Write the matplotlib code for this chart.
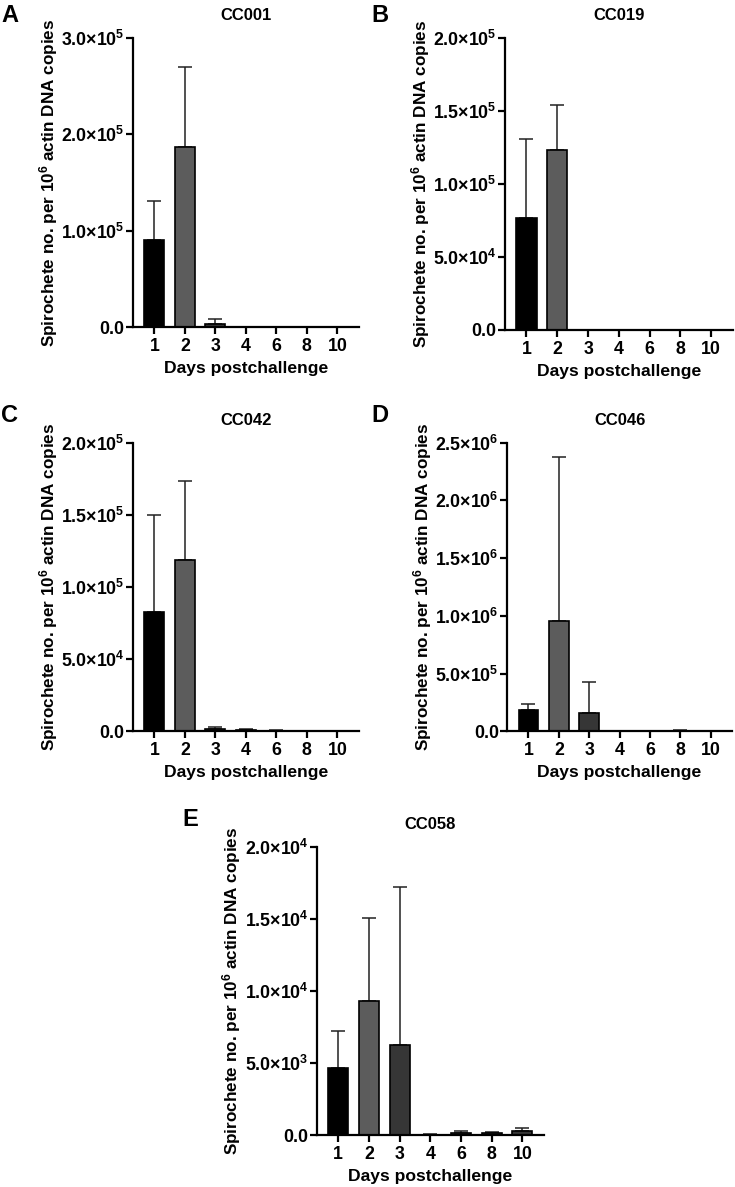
import numpy as np
import matplotlib
matplotlib.use("Agg")
import matplotlib.pyplot as plt

plt.rcParams['font.family'] = ['Liberation Sans', 'DejaVu Sans']
plt.rcParams['font.weight'] = 'bold'
plt.rcParams['mathtext.fontset'] = 'custom'
plt.rcParams['mathtext.rm'] = 'Liberation Sans:bold'
plt.rcParams['mathtext.bf'] = 'Liberation Sans:bold'
plt.rcParams['mathtext.it'] = 'Liberation Sans:bold'
plt.rcParams['mathtext.default'] = 'bf'

days = ['1', '2', '3', '4', '6', '8', '10']

# mean values and mean+SD (top of error bar)
cc001_mean = [90000, 186500, 3500, 0, 0, 0, 0]
cc001_top = [131000, 270000, 8700, 0, 0, 0, 0]

cc019_mean = [77000, 123000, 0, 0, 0, 0, 0]
cc019_top = [131000, 154000, 0, 0, 0, 0, 0]

cc042_mean = [82700, 118400, 1500, 600, 400, 0, 200]
cc042_top = [149700, 173600, 2600, 1600, 1100, 0, 400]

cc046_mean = [182000, 956000, 162000, 3000, 0, 2000, 2000]
cc046_top = [232000, 2378000, 426000, 4000, 0, 6000, 4000]

cc058_mean = [4640, 9290, 6260, 30, 150, 150, 250]
cc058_top = [7200, 15060, 17220, 60, 300, 200, 520]

panels = [
    # letter, title, mean, top, ymax, ytick step, axes rect, letter position (fig px)
    ('A', 'CC001', cc001_mean, cc001_top, 3e5, 1e5, [0.181, 0.7245, 0.307, 0.2435], (1, 4)),
    ('B', 'CC019', cc019_mean, cc019_top, 2e5, 5e4, [0.687, 0.722, 0.310, 0.246], (371, 4)),
    ('C', 'CC042', cc042_mean, cc042_top, 2e5, 5e4, [0.181, 0.384, 0.307, 0.243], (1, 404)),
    ('D', 'CC046', cc046_mean, cc046_top, 2.5e6, 5e5, [0.690, 0.384, 0.306, 0.243], (371, 404)),
    ('E', 'CC058', cc058_mean, cc058_top, 2e4, 5e3, [0.431, 0.0438, 0.309, 0.2426], (182, 808)),
]

bar_colors = ['#000000', '#5c5c5c', '#363636', '#363636', '#363636', '#363636', '#363636']


def fmt_tick(v):
    if v == 0:
        return '0.0'
    e = int(np.floor(np.log10(v)))
    m = v / 10 ** e
    return '%.1f×10$^{%d}$' % (m, e)


W, H = 735, 1187
fig = plt.figure(figsize=(W / 100, H / 100), dpi=100)

for letter, title, mean, top, ymax, step, rect, lpos in panels:
    ax = fig.add_axes(rect)
    x = np.arange(len(days))
    mean = np.array(mean, dtype=float)
    top = np.array(top, dtype=float)
    ax.bar(x, mean, width=0.65, color=bar_colors, edgecolor='black', linewidth=1.2, zorder=2)
    up = top - mean
    ax.errorbar(x, mean, yerr=[np.zeros_like(up), up], fmt='none', ecolor='#222222',
                elinewidth=1.1, capsize=5, capthick=1.1, zorder=1)
    ax.set_xlim(-0.7, 6.7)
    ax.set_ylim(0, ymax)
    ticks = np.arange(0, ymax + step / 2, step)
    ax.set_yticks(ticks)
    ax.set_yticklabels([fmt_tick(t) for t in ticks])
    ax.set_xticks(x)
    ax.set_xticklabels(days)
    for s in ['top', 'right']:
        ax.spines[s].set_visible(False)
    for s in ['left', 'bottom']:
        ax.spines[s].set_linewidth(1.6)
    ax.tick_params(axis='both', which='major', length=5, width=1.6, labelsize=12.8)
    ax.tick_params(axis='x', pad=3)
    ax.tick_params(axis='y', pad=1)
    ax.set_xlabel('Days postchallenge', fontsize=12.6, fontweight='bold', labelpad=4)
    ax.set_ylabel('Spirochete no. per 10$^6$ actin DNA copies', fontsize=12.3,
                  fontweight='bold', labelpad=1)
    ax.set_title(title, fontsize=12, fontweight='bold', pad=13)
    fig.text(lpos[0] / W, 1 - lpos[1] / H, letter, fontsize=17, fontweight='bold',
             va='top', ha='left')

fig.savefig('out.png', dpi=100)
